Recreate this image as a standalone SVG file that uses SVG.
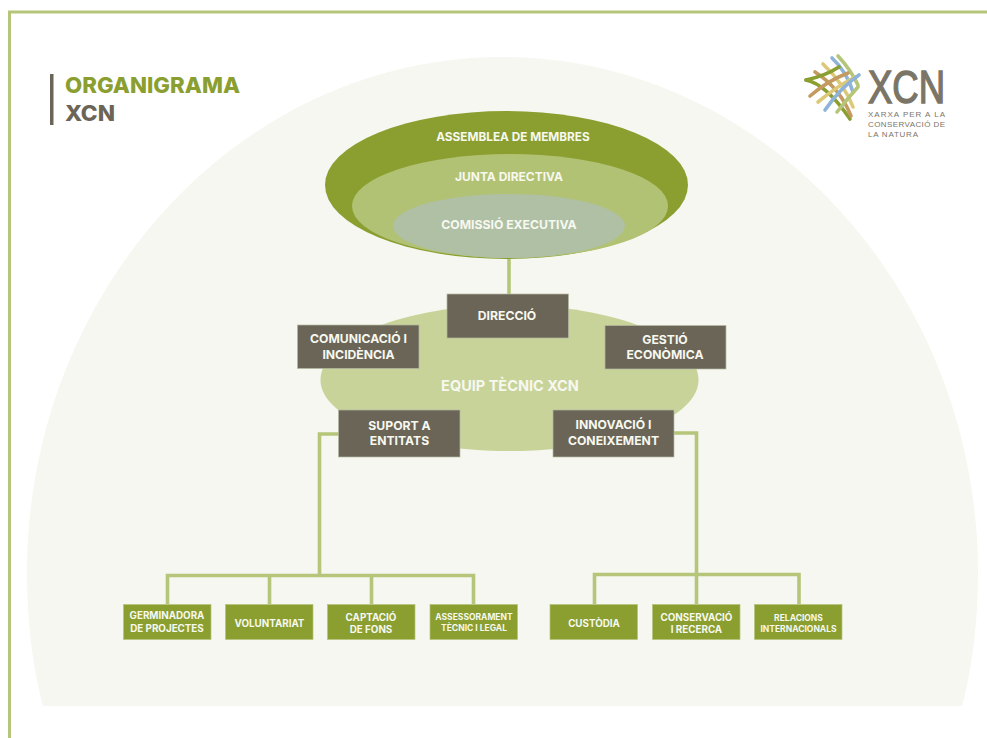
<svg xmlns="http://www.w3.org/2000/svg" width="987" height="738" viewBox="0 0 987 738">
<style>
text{font-family:"Inter","Liberation Sans",sans-serif;font-weight:700;fill:#f7f8ef;text-anchor:middle}
.dark rect{fill:#6b6557;stroke:#b5b9a3;stroke-width:.7}
.dark text{font-size:12.2px}
.green rect{fill:#8a9f30;stroke:#b6c47c;stroke-width:.7}
.green text{font-size:9.8px}
.green text.small{font-size:8.5px}
.conn{fill:none;stroke:#b5c67a;stroke-width:3.6}
.logo path{fill:none;stroke-width:3.6;stroke-linecap:round}
.logo text{font-family:"Liberation Sans",sans-serif;font-weight:400;fill:#7b7568;text-anchor:start}
.logo .tag{font-size:8px}
</style>
<rect width="987" height="738" fill="#fff"/>
<path d="M9.500 738V12H987" fill="none" stroke="#b5c67a" stroke-width="3"/>
<path id="background" d="M43 706C33 670 27 620 27 573C27 290 240 57 502 57C764 57 978 290 978 573C978 620 972 670 962 706Z" fill="#f6f7f0"/>
<g id="title">
<rect x="50" y="74" width="3.500" height="51" fill="#6b6557"/>
<text x="65" y="93" style="font-size:22px;text-anchor:start;fill:#8a9f30;font-weight:800" textLength="175" lengthAdjust="spacingAndGlyphs">ORGANIGRAMA</text>
<text x="65" y="121" style="font-size:21px;text-anchor:start;fill:#6b6557;font-weight:800" textLength="50" lengthAdjust="spacingAndGlyphs">XCN</text>
</g>
<g id="logo" class="logo">
<path d="M806 80Q826 84 850 119" stroke="#8a9f30"/>
<path d="M815 72Q840 88 851 116" stroke="#c39a5f"/>
<path d="M823 64Q845 85 853 107" stroke="#dcc977"/>
<path d="M832 58Q847 72 853 92" stroke="#8db4d8"/>
<path d="M838 56Q851 70 858 85" stroke="#b5c67a"/>
<path d="M806 80Q825 76 839 67" stroke="#8a9f30"/>
<path d="M810 96Q827 81 848 73" stroke="#c39a5f"/>
<path d="M818 102Q836 87 855 77" stroke="#dcc977"/>
<path d="M825 110Q841 87 859 75" stroke="#8db4d8"/>
<path d="M837 112Q848 98 858 87" stroke="#b5c67a"/>
<text x="868" y="103" style="font-size:47px;stroke:#7b7568;stroke-width:1.500" textLength="77" lengthAdjust="spacingAndGlyphs">XCN</text>
<text class="tag" x="868" y="116.500" textLength="77" lengthAdjust="spacing">XARXA PER A LA</text>
<text class="tag" x="868" y="126.500" textLength="77" lengthAdjust="spacing">CONSERVACIÓ DE</text>
<text class="tag" x="868" y="137" textLength="50" lengthAdjust="spacing">LA NATURA</text>
</g>
<g id="connectors">
<path class="conn" d="M509 255V294"/>
<path class="conn" d="M340 434H319.500V575"/>
<path class="conn" d="M674 433H696.500V575"/>
<path class="conn" d="M167.500 604V575.500H473.500V604M269.500 575.500V604M371.500 575.500V604"/>
<path class="conn" d="M594.500 604V574.500H799V604M696.500 574.500V604"/>
</g>
<g id="assemblea">
<ellipse cx="506.500" cy="185" rx="181.500" ry="74" fill="#8a9f30"/>
<text x="513" y="141" style="font-size:11.800px">ASSEMBLEA DE MEMBRES</text>
</g>
<g id="junta">
<ellipse cx="510" cy="206" rx="158" ry="52" fill="#b2c274"/>
<text x="509" y="181" style="font-size:12px">JUNTA DIRECTIVA</text>
</g>
<g id="comissio">
<ellipse cx="509" cy="226" rx="116" ry="32" fill="#afc0a4"/>
<text x="509" y="229" style="font-size:12.200px">COMISSIÓ EXECUTIVA</text>
</g>
<g id="equip">
<path d="M320.500 380C320.500 339 405 305 509.500 305C614 305 698.500 339 698.500 380C698.500 419 614 451 509.500 451C405 451 320.500 419 320.500 380Z" fill="#c8d39a"/>
<text x="510" y="391" style="font-size:14.500px">EQUIP TÈCNIC XCN</text>
</g>
<g id="direccio" class="dark"><rect x="447" y="294" width="121.500" height="44"/><text x="507" y="320">DIRECCIÓ</text></g>
<g id="comunicacio" class="dark"><rect x="297.500" y="325" width="121.500" height="43.500"/><text x="358.500" y="343">COMUNICACIÓ I</text><text x="358.500" y="359">INCIDÈNCIA</text></g>
<g id="gestio" class="dark"><rect x="605" y="325.500" width="121" height="43.500"/><text x="665" y="344">GESTIÓ</text><text x="665" y="359">ECONÒMICA</text></g>
<g id="suport" class="dark"><rect x="338.500" y="410" width="121.500" height="47"/><text x="399.500" y="430">SUPORT A</text><text x="399.500" y="445">ENTITATS</text></g>
<g id="innovacio" class="dark"><rect x="553" y="410" width="121" height="47"/><text x="613.500" y="429">INNOVACIÓ I</text><text x="613.500" y="445">CONEIXEMENT</text></g>
<g id="germinadora" class="green"><rect x="123.500" y="604.500" width="87.500" height="35"/><text x="167" y="619">GERMINADORA</text><text x="167" y="631.500">DE PROJECTES</text></g>
<g id="voluntariat" class="green"><rect x="225.500" y="604.500" width="87.500" height="35"/><text x="269.500" y="627">VOLUNTARIAT</text></g>
<g id="captacio" class="green"><rect x="327.500" y="604.500" width="87.500" height="35"/><text x="371" y="620.500">CAPTACIÓ</text><text x="371" y="632.500">DE FONS</text></g>
<g id="assessorament" class="green"><rect x="430" y="604.500" width="87.500" height="35"/><text class="small" x="474" y="620">ASSESSORAMENT</text><text class="small" x="474" y="631">TÈCNIC I LEGAL</text></g>
<g id="custodia" class="green"><rect x="550" y="604.500" width="87.500" height="35"/><text x="594" y="627">CUSTÒDIA</text></g>
<g id="conservacio" class="green"><rect x="652.500" y="604.500" width="87.500" height="35"/><text x="696.500" y="620.500">CONSERVACIÓ</text><text x="696.500" y="633">I RECERCA</text></g>
<g id="relacions" class="green"><rect x="754.500" y="604.500" width="87.500" height="35"/><text class="small" x="798.500" y="620.500">RELACIONS</text><text class="small" x="798.500" y="631.500">INTERNACIONALS</text></g>
</svg>
